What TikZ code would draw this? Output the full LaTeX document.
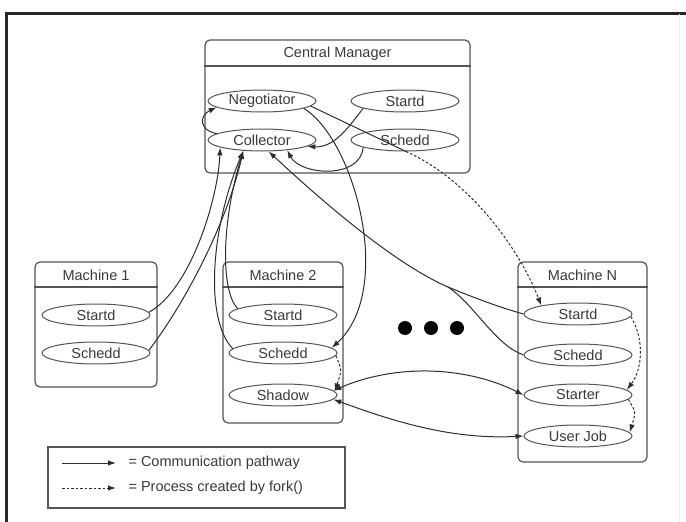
\documentclass[tikz,border=0pt]{standalone}
\usepackage{fontspec}
\setmainfont{Liberation Sans}
\usetikzlibrary{shapes.geometric,arrows.meta}
\definecolor{ink}{HTML}{2E2E2E}
\definecolor{boxline}{HTML}{555555}
\definecolor{txt}{HTML}{3A3A3A}
\begin{document}
\begin{tikzpicture}[x=1pt,y=-1pt,
  font=\fontsize{14.5}{16}\selectfont,
  every node/.style={text=txt},
  machbox/.style={draw=boxline,line width=1.2pt,rounded corners=5pt,inner sep=0pt},
  sepline/.style={draw=boxline,line width=1.3pt},
  proc/.style={ellipse,draw=boxline,line width=1pt,minimum width=108pt,minimum height=22pt,inner sep=0pt},
  tip/.style={-{Latex[length=8pt,width=5.5pt]}},
  comm/.style={draw=ink,line width=1pt,tip},
  commboth/.style={draw=ink,line width=1pt,{Latex[length=8pt,width=5.5pt]}-{Latex[length=8pt,width=5.5pt]}},
  plain/.style={draw=ink,line width=1pt},
  forkline/.style={draw=ink,line width=1pt,dash pattern=on 2.5pt off 2pt,tip}
]
\useasboundingbox (0,0) rectangle (686,522);
\fill[white] (0,0) rectangle (686,522);

% outer frame
\draw[line width=3pt,draw=black!85] (6.5,522) -- (6.5,13) -- (686,13);
\draw[line width=1pt,draw=black!7] (679,14) -- (679,522);

% boxes
\node[machbox,minimum width=265pt,minimum height=133pt] (cm) at (337.5,106.5) {};
\node[machbox,minimum width=122pt,minimum height=125pt] (m1) at (96,324.5) {};
\node[machbox,minimum width=120pt,minimum height=161pt] (m2) at (283,342.5) {};
\node[machbox,minimum width=129pt,minimum height=200pt] (mn) at (582.5,362) {};
\node[machbox,rounded corners=0pt,minimum width=297pt,minimum height=61pt] (leg) at (196.5,477.5) {};

\draw[sepline] (cm.west |- 0,66) -- (cm.east |- 0,66);
\draw[sepline] (m1.west |- 0,287) -- (m1.east |- 0,287);
\draw[sepline] (m2.west |- 0,287) -- (m2.east |- 0,287);
\draw[sepline] (mn.west |- 0,287) -- (mn.east |- 0,287);

\node (tcm) at (337.5,54) {Central Manager};
\node (tm1) at (96,275) {Machine 1};
\node (tm2) at (283,275) {Machine 2};
\node (tmn) at (582.5,275) {Machine N};

% processes
\node[proc] (neg) at (262,101) {Negotiator};
\node[proc] (sd0) at (405,101) {Startd};
\node[proc] (col) at (262,140) {Collector};
\node[proc] (sc0) at (405,140) {Schedd};

\node[proc] (sd1) at (96,315) {Startd};
\node[proc] (sc1) at (96,353) {Schedd};

\node[proc] (sd2) at (283,315) {Startd};
\node[proc] (sc2) at (283,353) {Schedd};
\node[proc] (shd) at (283,395) {Shadow};

\node[proc] (sdN) at (578,314) {Startd};
\node[proc] (scN) at (578,355) {Schedd};
\node[proc] (str) at (578,395) {Starter};
\node[proc] (uj)  at (578,436) {User Job};

% ellipsis between machines
\fill[black] (405,328) circle (7pt);
\fill[black] (431,328) circle (7pt);
\fill[black] (457,328) circle (7pt);

% central manager internal traffic
\draw[comm] (col.172) .. controls (198,130) and (200,115) .. (neg.188);
\draw[comm] (sd0.190) .. controls (350,125) and (335,148) .. (col.-8);
\draw[comm] (sc0.190) .. controls (360,180) and (300,175) .. (col.-22);

% negotiator to schedd and on to machine N
\draw[plain] (neg.-6) -- (sc0.-85);
\draw[forkline] (sc0.-85) .. controls (470,180) and (520,250) .. (sdN.167);
\draw[comm] (neg.-10) .. controls (355,140) and (395,290) .. (sc2.6);

% daemons reporting to the collector
\draw[comm] (sd1.3) .. controls (190,290) and (218,200) .. (col.190);
\draw[comm] (sc1.3) .. controls (180,310) and (225,230) .. (col.-150);
\draw[comm] (sd2.172) .. controls (220,290) and (222,220) .. (col.-150);
\draw[comm] (sc2.175) .. controls (205,320) and (210,230) .. (col.-150);
\coordinate (mj) at (448,287);
\draw[plain] (sdN.180) .. controls (495,306) and (470,296) .. (mj);
\draw[plain] (scN.180) .. controls (495,345) and (475,305) .. (mj);
\draw[comm] (mj) .. controls (390,262) and (310,190) .. (col.-60);

% shadow <-> starter / user job
\draw[commboth] (shd.5) .. controls (400,362) and (470,368) .. (str.180);
\draw[commboth] (shd.-5) .. controls (390,420) and (450,440) .. (uj.180);

% processes created by fork()
\draw[forkline] (sc2.-3) .. controls (342,370) .. (shd.4);
\draw[forkline] (sdN.-3) .. controls (645,340) and (642,370) .. (str.6);
\draw[forkline] (str.-5) .. controls (636,412) .. (uj.4);

% legend
\coordinate (la1) at (62,463);
\coordinate (lb1) at (116,463);
\coordinate (la2) at (62,488);
\coordinate (lb2) at (116,488);
\draw[comm] (la1) -- (lb1);
\draw[forkline] (la2) -- (lb2);
\node[anchor=west] (lt1) at (125,463) {= Communication pathway};
\node[anchor=west] (lt2) at (125,488) {= Process created by fork()};
\end{tikzpicture}
\end{document}
